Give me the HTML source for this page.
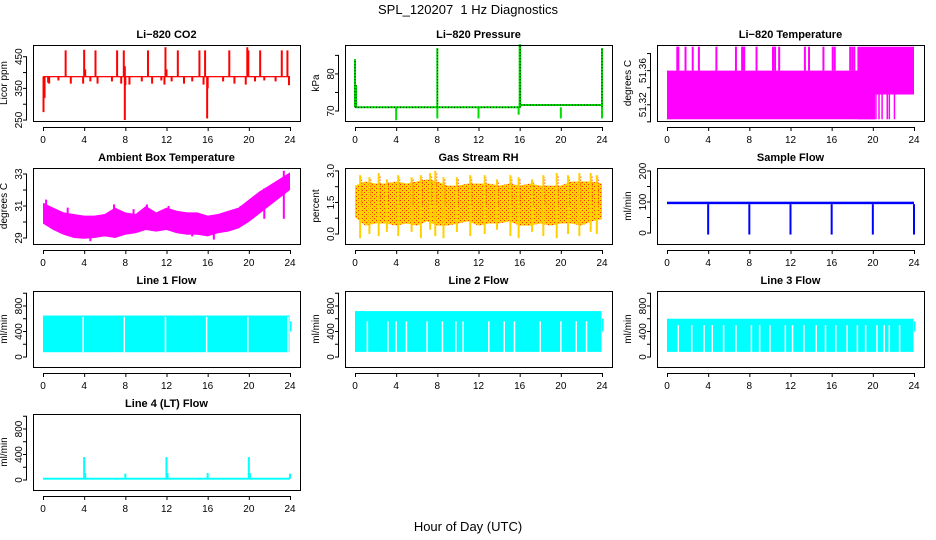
<!DOCTYPE html>
<html><head><meta charset="utf-8"><style>
body{margin:0;background:#fff}
svg{display:block;font-family:"Liberation Sans",sans-serif}
</style></head><body>
<svg id="c" width="936" height="540" viewBox="0 0 936 540" xmlns="http://www.w3.org/2000/svg">
<defs>
<pattern id="rhpat" width="4" height="4" patternUnits="userSpaceOnUse">
<rect width="4" height="4" fill="#ffd000"/><rect x="0" y="0" width="1" height="1" fill="#ff3000"/><rect x="2" y="2" width="1" height="1" fill="#ff3000"/>
</pattern>
</defs>
<text x="468" y="14" text-anchor="middle" font-size="13" xml:space="preserve">SPL_120207  1 Hz Diagnostics</text>
<text x="468" y="531" text-anchor="middle" font-size="13">Hour of Day (UTC)</text>
</svg>
<script>
// ---- data ----
const xTicks=[0,4,8,12,16,20,24];
const co2Base=387;
const co2UpX=[2.2,4,4.1,5.1,7.2,7.85,7.95,10.2,11.9,12.0,13.1,15.2,15.75,18.1,19.85,19.95,21.1,23.2,23.75];
const co2UpY=[470,472,410,470,470,470,420,470,480,410,470,470,470,470,480,470,470,470,470];
const co2DownX=[0.05,0.15,7.95,8.0,15.95,16.0];
const co2DownY=[275,320,250,360,255,350];
const co2SmallX=[0.5,0.6,1.5,2.7,3.9,4.6,5.3,6.7,7.6,8.4,9.6,10.6,11.5,11.8,12.5,13.7,14.5,15.6,17.5,18.6,19.7,20.6,21.5,22.6,23.9];
const co2SmallY=[368,365,375,365,365,372,365,372,365,362,372,365,375,362,372,365,372,362,372,365,362,372,375,372,360];
const presBaseX=[0,16,16,24];
const presBaseY=[71,71,71.6,71.6];
const presUpX=[0,0.1,8,16,16.05,24];
const presUpY=[84,77,87,88,88,87];
const presDipX=[4,8,12,15.9,20,24];
const presDipY=[67.5,68,68,69,68,68];
const tempLevels=[51.303,51.332,51.36,51.388];
const tempBlockX0=[0,18.5];
const tempBlockX1=[20.2,24];
const tempUpX=[1,1.1,1.8,2.5,3.1,4.8,6.7,7.3,7.4,7.5,8.7,10.3,10.5,10.9,13.4,13.8,15.2,16.1,16.3,17.8,18.0,18.2];
const tempLowX=[20.3,20.6,20.9,21.4,21.6,22.1];
const hours=[0,1,2,3,4,5,6,7,8,9,10,11,12,13,14,15,16,17,18,19,20,21,22,23,24];
const ambHi=[31.2,30.9,30.6,30.5,30.4,30.4,30.5,30.9,30.6,30.5,31.0,30.6,30.9,30.7,30.6,30.6,30.4,30.5,30.7,30.9,31.4,31.9,32.3,32.7,33.1];
const ambLo=[29.9,29.5,29.2,29.0,28.95,29.0,29.1,29.0,29.2,29.3,29.5,29.4,29.5,29.3,29.2,29.2,29.1,29.3,29.4,29.6,30.0,30.5,31.0,31.5,32.0];
const ambSpikeX=[0.3,2.4,4.6,6.9,8.8,10.1,12.2,14.5,16.6,19.2,21.5,23.4];
const ambSpikeY=[31.4,30.9,28.8,31.1,30.8,31.1,31.0,29.1,28.9,31.0,32.1,33.2];
const rhHi=[2.3,2.5,2.4,2.4,2.5,2.4,2.5,2.6,2.5,2.3,2.3,2.4,2.4,2.4,2.3,2.4,2.3,2.4,2.3,2.3,2.3,2.5,2.5,2.5,2.4];
const rhLo=[0.8,0.4,0.5,0.5,0.4,0.5,0.4,0.6,0.4,0.4,0.5,0.6,0.4,0.5,0.5,0.6,0.4,0.4,0.5,0.4,0.5,0.5,0.4,0.6,0.7];
const rhSpikeX=[0.5,1.4,2.3,3.1,4.2,5.5,6.4,7.3,7.8,8.6,9.9,11.2,12.6,13.8,15.1,15.9,17.2,18.3,19.6,20.7,21.8,22.9,23.5];
const rhSpikeHi=[2.8,2.7,2.9,2.6,2.8,2.7,2.8,2.9,3.0,2.7,2.7,2.8,2.8,2.6,2.8,2.7,2.6,2.8,2.9,2.8,2.9,2.9,2.8];
const rhSpikeLo=[-0.2,0.0,-0.1,0.1,-0.1,0.1,-0.2,0.2,-0.1,-0.2,0.1,-0.1,0.0,0.2,-0.1,-0.2,0.1,-0.1,-0.2,0.0,-0.1,0.1,0.0];
const sfLo=93, sfHi=101;
const sfDipX=[4,8,12,16,20,24];
const sfDipY=[-5,-5,-5,-5,-5,-5];
const l1Lo=75,l1Hi=650;
const l1GapX=[3.9,7.9,11.9,15.9,19.9,23.8];
const l2Lo=80,l2Hi=720;
const l2GapX=[1.2,3.2,4.0,5.0,7.0,8.5,9.8,10.5,13.0,14.5,15.5,18.0,20.0,21.5,22.5];
const l3Lo=80,l3Hi=600;
const l3GapX=[1.1,2.4,3.6,4.4,5.5,6.7,8.2,9.0,10.0,11.5,12.2,13.3,14.5,15.4,16.4,17.5,18.5,19.3,20.4,21.1,21.6,22.6];
const l4Base=20;
const l4SpikeX=[4,4.1,8,12,12.1,16,20,20.1,24];
const l4SpikeY=[360,110,100,360,110,110,360,110,100];

// ---- drawing helpers ----
const svg=document.getElementById('c');
const NS='http://www.w3.org/2000/svg';
function mk(tag,attrs,parent){const e=document.createElementNS(NS,tag);for(const k in attrs)e.setAttribute(k,attrs[k]);(parent||svg).appendChild(e);return e;}
const colL=[33,345,657], rowT=[45,168,291,414], W=267, H=76;
function panel(col,row,name,title,ylab,ticks,labs,ymin,ymax){
  const L=colL[col],T=rowT[row];
  const g=mk('g',{});
  
  
  const sx=v=>L+10+v*(W-20)/24;
  const sy=v=>T+H-(v-ymin)/(ymax-ymin)*H;
  const t=mk('text',{x:L+W/2,y:T-7,'text-anchor':'middle','font-size':11,'font-weight':'bold'},g);t.textContent=title;
  
  
  const yl=mk('text',{transform:`translate(${L-26},${T+H/2}) rotate(-90)`,'text-anchor':'middle','font-size':10},g);yl.textContent=ylab;
  
  
  const data=mk('g',{},g);
  
  
  const ax=mk('g',{stroke:'#000','stroke-width':1,fill:'none'},g);
  
  
  mk('line',{x1:sx(0),x2:sx(24),y1:T+H+6.5,y2:T+H+6.5},ax);
  xTicks.forEach(v=>{mk('line',{x1:sx(v)+.5,x2:sx(v)+.5,y1:T+H+6,y2:T+H+10},ax);
    const tl=mk('text',{x:sx(v),y:T+H+22,'text-anchor':'middle','font-size':10,fill:'#000',stroke:'none'},g);tl.textContent=v;
    
    });
  mk('line',{x1:L-6.5,x2:L-6.5,y1:sy(ticks[0]),y2:sy(ticks[ticks.length-1])},ax);
  ticks.forEach((v,i)=>{mk('line',{x1:L-10,x2:L-6,y1:sy(v),y2:sy(v)},ax);
    if(labs[i]!==''){const tl=mk('text',{transform:`translate(${L-11},${sy(v)}) rotate(-90)`,'text-anchor':'middle','font-size':10,fill:'#000',stroke:'none'},g);tl.textContent=labs[i];
    
    }});
  mk('rect',{x:L+.5,y:T+.5,width:W,height:H,fill:'none',stroke:'#000'},g);
  return {sx,sy,g:data};
}
function vline(p,x,y1,y2,c,w){return mk('line',{x1:p.sx(x),x2:p.sx(x),y1:p.sy(y1),y2:p.sy(y2),stroke:c,'stroke-width':w||1},p.g);}
function band(p,x0,x1,lo,hi,c){return mk('rect',{x:p.sx(x0),y:p.sy(hi),width:p.sx(x1)-p.sx(x0),height:p.sy(lo)-p.sy(hi),fill:c},p.g);}
function envelope(p,xs,hi,lo,fill){let d='M'+xs.map((x,i)=>p.sx(x)+','+p.sy(hi[i])).join('L');
  for(let i=xs.length-1;i>=0;i--)d+='L'+p.sx(xs[i])+','+p.sy(lo[i]);return mk('path',{d:d+'Z',fill},p.g);}

// CO2
let p=panel(0,0,'co2','Li−820 CO2','Licor ppm',[250,300,350,400,450],['250','','350','','450'],247,487);
band(p,0,24,co2Base-2,co2Base+2,'#f00');
co2UpX.forEach((x,i)=>vline(p,x,co2Base,co2UpY[i],'#f00',2));
co2DownX.forEach((x,i)=>vline(p,x,co2Base,co2DownY[i],'#f00',2));
co2SmallX.forEach((x,i)=>vline(p,x,co2Base,co2SmallY[i],'#f00',2));
// Pressure
p=panel(1,0,'pressure','Li−820 Pressure','kPa',[70,75,80,85],['70','','80',''],67.3,87.8);
mk('polyline',{points:presBaseX.map((x,i)=>p.sx(x)+','+p.sy(presBaseY[i])).join(' '),fill:'none',stroke:'#0d0','stroke-width':2},p.g);
mk('polyline',{points:presBaseX.map((x,i)=>p.sx(x)+','+p.sy(presBaseY[i])).join(' '),fill:'none',stroke:'#000','stroke-width':1,'stroke-dasharray':'1 2'},p.g);
presUpX.forEach((x,i)=>{vline(p,x,71,presUpY[i],'#0d0',2);vline(p,x,71,presUpY[i],'#000',1).setAttribute('stroke-dasharray','1 2');});
presDipX.forEach((x,i)=>vline(p,x,71,presDipY[i],'#0d0',2));
// Temperature
p=panel(2,0,'temperature','Li−820 Temperature','degrees C',[51.30,51.32,51.34,51.36,51.38],['','51.32','','51.36',''],51.301,51.39);
band(p,tempBlockX0[0],tempBlockX1[0],tempLevels[0],tempLevels[2],'#f0f');
band(p,tempBlockX0[1],tempBlockX1[1],tempLevels[1],tempLevels[3],'#f0f');
band(p,tempBlockX0[1],tempBlockX1[0],tempLevels[0],tempLevels[2],'#f0f');
tempUpX.forEach(x=>vline(p,x,tempLevels[2],tempLevels[3],'#f0f',2));
tempLowX.forEach(x=>vline(p,x,tempLevels[0],tempLevels[1],'#f0f',1.5));
// Ambient
p=panel(0,1,'ambient','Ambient Box Temperature','degrees C',[29,30,31,32,33],['29','','31','','33'],28.625,33.375);
envelope(p,hours,ambHi,ambLo,'#f0f');
ambSpikeX.forEach((x,i)=>vline(p,x,30.2,ambSpikeY[i],'#f0f',2));
// RH
p=panel(1,1,'gas-rh','Gas Stream RH','percent',[0,0.75,1.5,2.25,3],['0.0','','1.5','','3.0'],-0.476,3.14);
envelope(p,hours,rhHi,rhLo,'url(#rhpat)');
rhSpikeX.forEach((x,i)=>{vline(p,x,1.4,rhSpikeHi[i],'#ffd000',2);vline(p,x,1.4,rhSpikeLo[i],'#ffd000',2);
  vline(p,x+0.15,1.4,rhSpikeHi[i]-0.1,'#f30',1).setAttribute('stroke-dasharray','1 2');});
// Sample flow
p=panel(2,1,'sample-flow','Sample Flow','ml/min',[0,50,100,150,200],['0','','100','','200'],-35.5,209.7);
band(p,0,24,sfLo,sfHi,'#00f');
sfDipX.forEach((x,i)=>vline(p,x,sfLo,sfDipY[i],'#00f',2));
// Line flows
const ft=[0,200,400,600,800,1000], fl=['0','','400','','800',''];
p=panel(0,2,'line1-flow','Line 1 Flow','ml/min',ft,fl,-157,1035);
band(p,0,23.95,l1Lo,l1Hi,'#0ff');band(p,24,24.15,400,560,'#0ff');
l1GapX.forEach(x=>vline(p,x,l1Lo-2,l1Hi-20,'#fff',1.5));
p=panel(1,2,'line2-flow','Line 2 Flow','ml/min',ft,fl,-157,1035);
band(p,0,23.95,l2Lo,l2Hi,'#0ff');band(p,24,24.15,400,600,'#0ff');
l2GapX.forEach(x=>vline(p,x,l2Lo-2,560,'#fff',1.5));
p=panel(2,2,'line3-flow','Line 3 Flow','ml/min',ft,fl,-157,1035);
band(p,0,23.95,l3Lo,l3Hi,'#0ff');band(p,24,24.15,400,560,'#0ff');
l3GapX.forEach(x=>vline(p,x,l3Lo-2,500,'#fff',1.5));
p=panel(0,3,'line4-flow','Line 4 (LT) Flow','ml/min',ft,fl,-157,1035);
band(p,0,24,l4Base-15,l4Base+15,'#0ff');
l4SpikeX.forEach((x,i)=>vline(p,x,l4Base,l4SpikeY[i],'#0ff',2));
</script>
</body></html>
